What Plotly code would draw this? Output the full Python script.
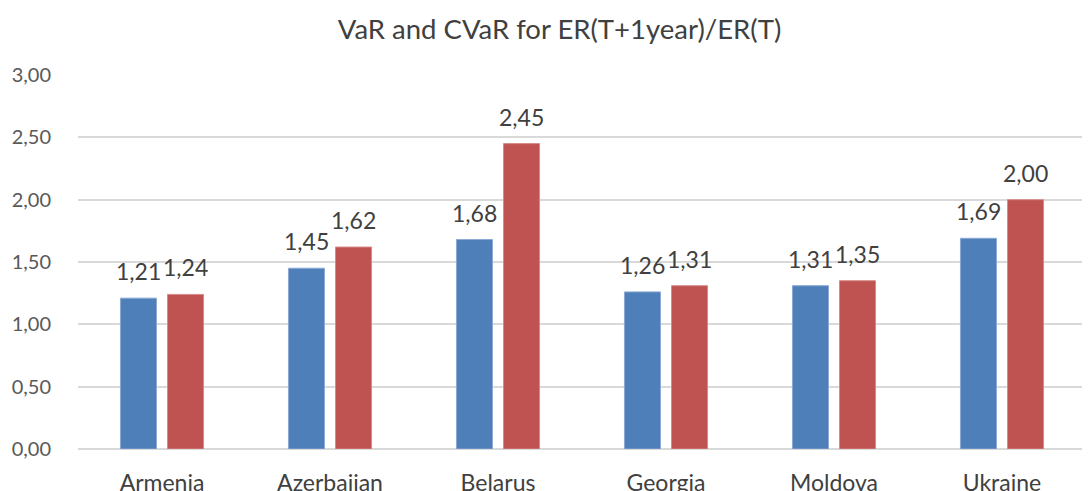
import plotly.graph_objects as go

countries = ["Armenia", "Azerbaijan", "Belarus", "Georgia", "Moldova", "Ukraine"]
var_values = [1.21, 1.45, 1.68, 1.26, 1.31, 1.69]
cvar_values = [1.24, 1.62, 2.45, 1.31, 1.35, 2.00]
y_ticks = [0, 0.5, 1.0, 1.5, 2.0, 2.5, 3.0]

FONT = "Lato, Open Sans, sans-serif"

fig = go.Figure()
fig.add_trace(go.Bar(name="VaR", x=countries, y=var_values,
                     marker=dict(color="#4F7FB8", line=dict(color="#8AA9D4", width=1))))
fig.add_trace(go.Bar(name="CVaR", x=countries, y=cvar_values,
                     marker=dict(color="#BE5352", line=dict(color="#D88A89", width=1))))

annotations = []
for series, shift in ((var_values, -23.5), (cvar_values, 23.5)):
    for c, v in zip(countries, series):
        annotations.append(dict(x=c, y=v, xref="x", yref="y", xshift=shift, yshift=11,
                                text=f"{v:.2f}".replace(".", ","), showarrow=False,
                                yanchor="bottom", font=dict(size=23, color="#404040", family=FONT)))

fig.update_layout(
    width=1090, height=491,
    margin=dict(l=70, r=12, t=67, b=50, autoexpand=False),
    paper_bgcolor="white", plot_bgcolor="white",
    separators=",.",
    showlegend=False,
    barmode="group", bargap=0.44, bargroupgap=0.234,
    title=dict(text="VaR and CVaR for ER(T+1year)/ER(T)", x=0.506, xanchor="center",
               y=0.956, yanchor="middle", font=dict(size=27.5, color="#404040", family=FONT)),
    font=dict(family=FONT, color="#595959"),
    annotations=annotations,
)
fig.update_yaxes(range=[0, 3], tickvals=y_ticks, tickformat=".2f", automargin=False,
                 showgrid=True, gridcolor="#D9D9D9", gridwidth=2,
                 zeroline=True, zerolinecolor="#D9D9D9", zerolinewidth=2,
                 showline=False, ticks="", tickfont=dict(size=20, color="#595959"),
                 ticklabelstandoff=26)
fig.update_xaxes(showline=False, ticks="", automargin=False,
                 tickfont=dict(size=23, color="#404040"),
                 ticklabelstandoff=18)

fig.write_html("out.html")
